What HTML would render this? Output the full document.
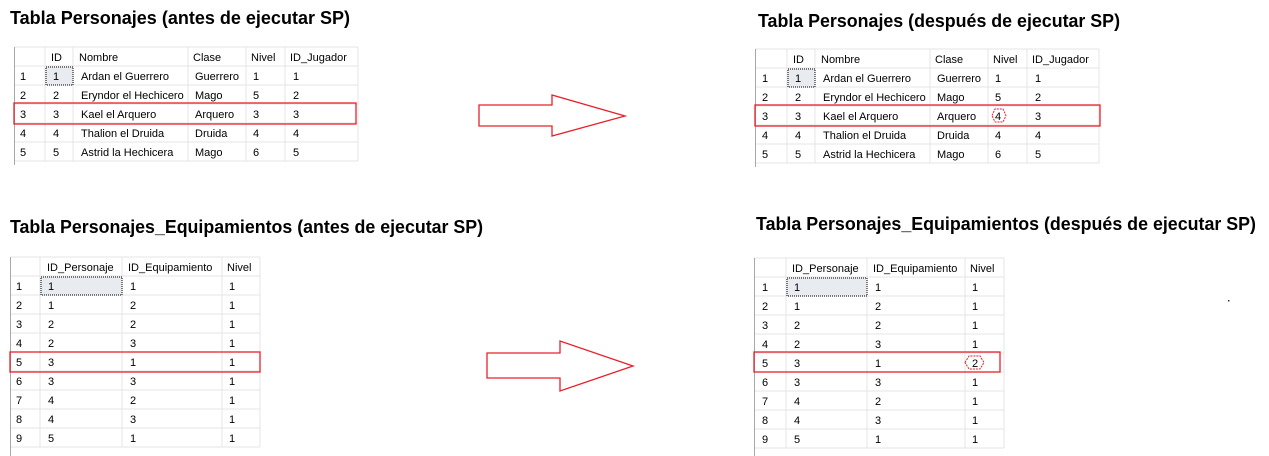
<!DOCTYPE html>
<html><head><meta charset="utf-8"><style>
html,body{margin:0;padding:0;background:#fff;}
svg{display:block;font-family:"Liberation Sans",Arial,sans-serif;}
.t{font-size:18px;font-weight:bold;fill:#000;}
.c{font-size:11px;fill:#000;}
.g{stroke:#e4e4e4;stroke-width:1;fill:none;}
.r{stroke:#e8202a;stroke-width:1.3;fill:none;}
</style></head><body>
<svg width="1269" height="456" viewBox="0 0 1269 456" xmlns="http://www.w3.org/2000/svg">
<text class="t" x="10" y="24" textLength="340" lengthAdjust="spacingAndGlyphs">Tabla Personajes (antes de ejecutar SP)</text>
<text class="t" x="758" y="27" textLength="362" lengthAdjust="spacingAndGlyphs">Tabla Personajes (después de ejecutar SP)</text>
<text class="t" x="10" y="233" textLength="473" lengthAdjust="spacingAndGlyphs">Tabla Personajes_Equipamientos (antes de ejecutar SP)</text>
<text class="t" x="756" y="230" textLength="500" lengthAdjust="spacingAndGlyphs">Tabla Personajes_Equipamientos (después de ejecutar SP)</text>

<g>
<line x1="14" y1="47" x2="358" y2="47" class="g"/>
<line x1="14" y1="66" x2="358" y2="66" class="g"/>
<line x1="14" y1="85" x2="358" y2="85" class="g"/>
<line x1="14" y1="104" x2="358" y2="104" class="g"/>
<line x1="14" y1="123" x2="358" y2="123" class="g"/>
<line x1="14" y1="142" x2="358" y2="142" class="g"/>
<line x1="14" y1="161" x2="358" y2="161" class="g"/>
<line x1="45" y1="47" x2="45" y2="161" class="g"/>
<line x1="73" y1="47" x2="73" y2="161" class="g"/>
<line x1="188" y1="47" x2="188" y2="161" class="g"/>
<line x1="246" y1="47" x2="246" y2="161" class="g"/>
<line x1="285" y1="47" x2="285" y2="161" class="g"/>
<line x1="358" y1="47" x2="358" y2="161" class="g"/>
<line x1="14.5" y1="47" x2="14.5" y2="165" stroke="#a8a8a8"/>
<rect x="46" y="67" width="27" height="18" fill="#e8ecf0" stroke="#000" stroke-dasharray="1,1"/>
<text class="c" x="51" y="61">ID</text><text class="c" x="79" y="61">Nombre</text><text class="c" x="193" y="61">Clase</text><text class="c" x="251" y="61">Nivel</text><text class="c" x="290" y="61">ID_Jugador</text>
<text class="c" x="20" y="80">1</text><text class="c" x="53" y="80">1</text><text class="c" x="81" y="80">Ardan el Guerrero</text><text class="c" x="195" y="80">Guerrero</text><text class="c" x="253" y="80">1</text><text class="c" x="293" y="80">1</text>
<text class="c" x="20" y="99">2</text><text class="c" x="53" y="99">2</text><text class="c" x="81" y="99">Eryndor el Hechicero</text><text class="c" x="195" y="99">Mago</text><text class="c" x="253" y="99">5</text><text class="c" x="293" y="99">2</text>
<text class="c" x="20" y="118">3</text><text class="c" x="53" y="118">3</text><text class="c" x="81" y="118">Kael el Arquero</text><text class="c" x="195" y="118">Arquero</text><text class="c" x="253" y="118">3</text><text class="c" x="293" y="118">3</text>
<text class="c" x="20" y="137">4</text><text class="c" x="53" y="137">4</text><text class="c" x="81" y="137">Thalion el Druida</text><text class="c" x="195" y="137">Druida</text><text class="c" x="253" y="137">4</text><text class="c" x="293" y="137">4</text>
<text class="c" x="20" y="156">5</text><text class="c" x="53" y="156">5</text><text class="c" x="81" y="156">Astrid la Hechicera</text><text class="c" x="195" y="156">Mago</text><text class="c" x="253" y="156">6</text><text class="c" x="293" y="156">5</text>
<rect x="14" y="103" width="342" height="21" class="r"/>
</g>

<g>
<line x1="755" y1="49" x2="1099" y2="49" class="g"/>
<line x1="755" y1="68" x2="1099" y2="68" class="g"/>
<line x1="755" y1="87" x2="1099" y2="87" class="g"/>
<line x1="755" y1="106" x2="1099" y2="106" class="g"/>
<line x1="755" y1="125" x2="1099" y2="125" class="g"/>
<line x1="755" y1="144" x2="1099" y2="144" class="g"/>
<line x1="755" y1="163" x2="1099" y2="163" class="g"/>
<line x1="787" y1="49" x2="787" y2="163" class="g"/>
<line x1="815" y1="49" x2="815" y2="163" class="g"/>
<line x1="930" y1="49" x2="930" y2="163" class="g"/>
<line x1="988" y1="49" x2="988" y2="163" class="g"/>
<line x1="1027" y1="49" x2="1027" y2="163" class="g"/>
<line x1="1099" y1="49" x2="1099" y2="163" class="g"/>
<line x1="755.5" y1="49" x2="755.5" y2="167" stroke="#a8a8a8"/>
<rect x="788" y="69" width="27" height="18" fill="#e8ecf0" stroke="#000" stroke-dasharray="1,1"/>
<text class="c" x="793" y="63">ID</text><text class="c" x="821" y="63">Nombre</text><text class="c" x="935" y="63">Clase</text><text class="c" x="993" y="63">Nivel</text><text class="c" x="1032" y="63">ID_Jugador</text>
<text class="c" x="762" y="82">1</text><text class="c" x="795" y="82">1</text><text class="c" x="823" y="82">Ardan el Guerrero</text><text class="c" x="937" y="82">Guerrero</text><text class="c" x="995" y="82">1</text><text class="c" x="1035" y="82">1</text>
<text class="c" x="762" y="101">2</text><text class="c" x="795" y="101">2</text><text class="c" x="823" y="101">Eryndor el Hechicero</text><text class="c" x="937" y="101">Mago</text><text class="c" x="995" y="101">5</text><text class="c" x="1035" y="101">2</text>
<text class="c" x="762" y="120">3</text><text class="c" x="795" y="120">3</text><text class="c" x="823" y="120">Kael el Arquero</text><text class="c" x="937" y="120">Arquero</text><text class="c" x="995" y="120">4</text><text class="c" x="1035" y="120">3</text>
<text class="c" x="762" y="139">4</text><text class="c" x="795" y="139">4</text><text class="c" x="823" y="139">Thalion el Druida</text><text class="c" x="937" y="139">Druida</text><text class="c" x="995" y="139">4</text><text class="c" x="1035" y="139">4</text>
<text class="c" x="762" y="158">5</text><text class="c" x="795" y="158">5</text><text class="c" x="823" y="158">Astrid la Hechicera</text><text class="c" x="937" y="158">Mago</text><text class="c" x="995" y="158">6</text><text class="c" x="1035" y="158">5</text>
<rect x="755" y="105" width="345" height="21" class="r"/>
<polygon points="992,115.5 995,109 1003,109 1006,115.5 1003,122 995,122" fill="none" stroke="#e8202a" stroke-dasharray="2,1"/>
</g>

<g>
<line x1="10" y1="257" x2="260" y2="257" class="g"/>
<line x1="10" y1="276" x2="260" y2="276" class="g"/>
<line x1="10" y1="295" x2="260" y2="295" class="g"/>
<line x1="10" y1="314" x2="260" y2="314" class="g"/>
<line x1="10" y1="333" x2="260" y2="333" class="g"/>
<line x1="10" y1="352" x2="260" y2="352" class="g"/>
<line x1="10" y1="371" x2="260" y2="371" class="g"/>
<line x1="10" y1="390" x2="260" y2="390" class="g"/>
<line x1="10" y1="409" x2="260" y2="409" class="g"/>
<line x1="10" y1="428" x2="260" y2="428" class="g"/>
<line x1="10" y1="447" x2="260" y2="447" class="g"/>
<line x1="40" y1="257" x2="40" y2="447" class="g"/>
<line x1="122" y1="257" x2="122" y2="447" class="g"/>
<line x1="222" y1="257" x2="222" y2="447" class="g"/>
<line x1="260" y1="257" x2="260" y2="447" class="g"/>
<line x1="10.5" y1="257" x2="10.5" y2="456" stroke="#a8a8a8"/>
<rect x="41" y="277" width="81" height="18" fill="#e8ecf0" stroke="#000" stroke-dasharray="1,1"/>
<text class="c" x="47" y="271">ID_Personaje</text><text class="c" x="128" y="271">ID_Equipamiento</text><text class="c" x="227" y="271">Nivel</text>
<text class="c" x="16" y="290">1</text><text class="c" x="48" y="290">1</text><text class="c" x="130" y="290">1</text><text class="c" x="229" y="290">1</text>
<text class="c" x="16" y="309">2</text><text class="c" x="48" y="309">1</text><text class="c" x="130" y="309">2</text><text class="c" x="229" y="309">1</text>
<text class="c" x="16" y="328">3</text><text class="c" x="48" y="328">2</text><text class="c" x="130" y="328">2</text><text class="c" x="229" y="328">1</text>
<text class="c" x="16" y="347">4</text><text class="c" x="48" y="347">2</text><text class="c" x="130" y="347">3</text><text class="c" x="229" y="347">1</text>
<text class="c" x="16" y="366">5</text><text class="c" x="48" y="366">3</text><text class="c" x="130" y="366">1</text><text class="c" x="229" y="366">1</text>
<text class="c" x="16" y="385">6</text><text class="c" x="48" y="385">3</text><text class="c" x="130" y="385">3</text><text class="c" x="229" y="385">1</text>
<text class="c" x="16" y="404">7</text><text class="c" x="48" y="404">4</text><text class="c" x="130" y="404">2</text><text class="c" x="229" y="404">1</text>
<text class="c" x="16" y="423">8</text><text class="c" x="48" y="423">4</text><text class="c" x="130" y="423">3</text><text class="c" x="229" y="423">1</text>
<text class="c" x="16" y="442">9</text><text class="c" x="48" y="442">5</text><text class="c" x="130" y="442">1</text><text class="c" x="229" y="442">1</text>
<rect x="10" y="352" width="250" height="20" class="r"/>
</g>

<g>
<line x1="754" y1="258" x2="1004" y2="258" class="g"/>
<line x1="754" y1="277" x2="1004" y2="277" class="g"/>
<line x1="754" y1="296" x2="1004" y2="296" class="g"/>
<line x1="754" y1="315" x2="1004" y2="315" class="g"/>
<line x1="754" y1="334" x2="1004" y2="334" class="g"/>
<line x1="754" y1="353" x2="1004" y2="353" class="g"/>
<line x1="754" y1="372" x2="1004" y2="372" class="g"/>
<line x1="754" y1="391" x2="1004" y2="391" class="g"/>
<line x1="754" y1="410" x2="1004" y2="410" class="g"/>
<line x1="754" y1="429" x2="1004" y2="429" class="g"/>
<line x1="754" y1="448" x2="1004" y2="448" class="g"/>
<line x1="786" y1="258" x2="786" y2="448" class="g"/>
<line x1="867" y1="258" x2="867" y2="448" class="g"/>
<line x1="965" y1="258" x2="965" y2="448" class="g"/>
<line x1="1004" y1="258" x2="1004" y2="448" class="g"/>
<line x1="754.5" y1="258" x2="754.5" y2="456" stroke="#a8a8a8"/>
<rect x="787" y="278" width="80" height="18" fill="#e8ecf0" stroke="#000" stroke-dasharray="1,1"/>
<text class="c" x="792" y="272">ID_Personaje</text><text class="c" x="873" y="272">ID_Equipamiento</text><text class="c" x="970" y="272">Nivel</text>
<text class="c" x="762" y="291">1</text><text class="c" x="794" y="291">1</text><text class="c" x="875" y="291">1</text><text class="c" x="972" y="291">1</text>
<text class="c" x="762" y="310">2</text><text class="c" x="794" y="310">1</text><text class="c" x="875" y="310">2</text><text class="c" x="972" y="310">1</text>
<text class="c" x="762" y="329">3</text><text class="c" x="794" y="329">2</text><text class="c" x="875" y="329">2</text><text class="c" x="972" y="329">1</text>
<text class="c" x="762" y="348">4</text><text class="c" x="794" y="348">2</text><text class="c" x="875" y="348">3</text><text class="c" x="972" y="348">1</text>
<text class="c" x="762" y="367">5</text><text class="c" x="794" y="367">3</text><text class="c" x="875" y="367">1</text><text class="c" x="972" y="367">2</text>
<text class="c" x="762" y="386">6</text><text class="c" x="794" y="386">3</text><text class="c" x="875" y="386">3</text><text class="c" x="972" y="386">1</text>
<text class="c" x="762" y="405">7</text><text class="c" x="794" y="405">4</text><text class="c" x="875" y="405">2</text><text class="c" x="972" y="405">1</text>
<text class="c" x="762" y="424">8</text><text class="c" x="794" y="424">4</text><text class="c" x="875" y="424">3</text><text class="c" x="972" y="424">1</text>
<text class="c" x="762" y="443">9</text><text class="c" x="794" y="443">5</text><text class="c" x="875" y="443">1</text><text class="c" x="972" y="443">1</text>
<rect x="754" y="352" width="246" height="20" class="r"/>
<polygon points="965,362.5 969,356 980,356 984,362.5 980,369 969,369" fill="none" stroke="#e8202a" stroke-dasharray="2,1"/>
</g>

<polygon points="479,105 552,105 552,95 625,116 552,136 552,126 479,126" fill="none" stroke="#e8202a" stroke-width="1.3"/>
<polygon points="487,353 560,353 560,341 633,366 560,391 560,378 487,378" fill="none" stroke="#e8202a" stroke-width="1.3"/>
<rect x="1228" y="300" width="1.5" height="1.5" fill="#333"/>
</svg>
</body></html>
